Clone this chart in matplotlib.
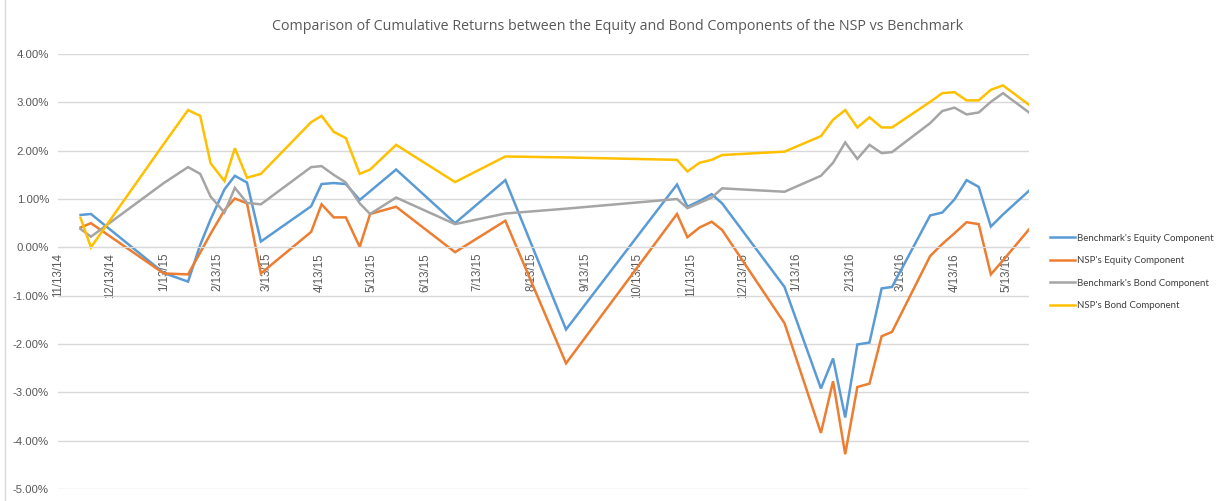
import datetime as dt
import matplotlib
matplotlib.use("Agg")
import matplotlib.pyplot as plt
import matplotlib.dates as mdates
from matplotlib.ticker import FuncFormatter, MultipleLocator
from matplotlib.lines import Line2D

# observation dates (m/d/y)
dates = [
    "11/26/14", "12/2/14", "1/13/15", "1/27/15", "2/3/15", "2/9/15", "2/17/15",
    "2/23/15", "3/2/15", "3/10/15", "4/8/15", "4/14/15", "4/21/15", "4/28/15",
    "5/6/15", "5/12/15", "5/27/15", "6/30/15", "7/29/15", "9/2/15", "11/5/15",
    "11/11/15", "11/18/15", "11/25/15", "12/1/15", "1/6/16", "1/27/16", "2/3/16",
    "2/10/16", "2/17/16", "2/24/16", "3/2/16", "3/8/16", "3/30/16", "4/6/16",
    "4/13/16", "4/20/16", "4/27/16", "5/4/16", "5/11/16", "5/26/16",
]

bench_equity = [
    0.67, 0.69, -0.53, -0.71, 0.05, 0.58, 1.20, 1.48, 1.34, 0.12, 0.85, 1.31,
    1.33, 1.31, 0.98, 1.16, 1.61, 0.50, 1.39, -1.70, 1.30, 0.84, 0.96, 1.10,
    0.91, -0.82, -2.92, -2.30, -3.52, -2.01, -1.97, -0.85, -0.82, 0.66, 0.72,
    0.99, 1.39, 1.25, 0.43, 0.68, 1.17,
]
nsp_equity = [
    0.41, 0.50, -0.54, -0.56, -0.11, 0.28, 0.77, 1.01, 0.91, -0.54, 0.32, 0.89,
    0.62, 0.62, 0.01, 0.69, 0.84, -0.10, 0.55, -2.40, 0.69, 0.21, 0.41, 0.53,
    0.36, -1.57, -3.84, -2.77, -4.28, -2.89, -2.82, -1.84, -1.75, -0.18, 0.07,
    0.29, 0.52, 0.48, -0.56, -0.27, 0.37,
]
bench_bond = [
    0.38, 0.22, 1.33, 1.66, 1.52, 1.05, 0.72, 1.23, 0.92, 0.89, 1.66, 1.68,
    1.50, 1.34, 0.91, 0.69, 1.03, 0.48, 0.70, 0.80, 1.00, 0.81, 0.92, 1.03,
    1.22, 1.15, 1.48, 1.75, 2.17, 1.83, 2.12, 1.95, 1.97, 2.57, 2.82, 2.89,
    2.75, 2.79, 3.01, 3.19, 2.79,
]
nsp_bond = [
    0.61, 0.00, 2.14, 2.84, 2.72, 1.74, 1.37, 2.05, 1.44, 1.52, 2.59, 2.72,
    2.39, 2.26, 1.52, 1.61, 2.12, 1.35, 1.88, 1.86, 1.81, 1.57, 1.75, 1.81,
    1.91, 1.98, 2.30, 2.64, 2.84, 2.48, 2.69, 2.48, 2.48, 3.01, 3.19, 3.21,
    3.04, 3.04, 3.26, 3.35, 2.95,
]

series_names = [
    "Benchmark's Equity Component",
    "NSP's Equity Component",
    "Benchmark's Bond Component",
    "NSP's Bond Component",
]
colors = ["#5B9BD5", "#ED7D31", "#A5A5A5", "#FFC000"]

title = "Comparison of Cumulative Returns between the Equity and Bond Components of the NSP vs Benchmark"

x = [dt.datetime.strptime(d, "%m/%d/%y") for d in dates]
start = dt.datetime(2014, 11, 13)
end = dt.datetime(2016, 5, 26)

fig = plt.figure(figsize=(12.29, 5.01), dpi=100)
ax = fig.add_axes([58 / 1229, 1 - 489 / 501, (1029 - 58) / 1229, (489 - 54) / 501])

for vals, name, c in zip([bench_equity, nsp_equity, bench_bond, nsp_bond], series_names, colors):
    ax.plot(x, vals, color=c, lw=1.8, label=name, solid_joinstyle="miter")

ax.set_xlim(start, end)
ax.set_ylim(-5, 4)
ax.yaxis.set_major_locator(MultipleLocator(1))
ax.yaxis.set_major_formatter(FuncFormatter(lambda v, p: "%.2f%%" % v))
ax.grid(axis="y", color="#D9D9D9", lw=1)
ax.set_axisbelow(True)

ticks = [dt.datetime(2014 + (10 + i) // 12, (10 + i) % 12 + 1, 13) for i in range(19)]
ax.set_xticks(ticks)
ax.xaxis.set_major_formatter(FuncFormatter(
    lambda v, p: "%d/%d/%s" % (mdates.num2date(v).month, mdates.num2date(v).day,
                               mdates.num2date(v).strftime("%y"))))

for s in ["top", "right", "left"]:
    ax.spines[s].set_visible(False)
ax.spines["bottom"].set_position(("data", 0))
ax.spines["bottom"].set_color("#D9D9D9")
ax.tick_params(axis="both", length=0, colors="#595959")
ax.tick_params(axis="y", labelsize=8.2, pad=6.5)
ax.tick_params(axis="x", labelsize=8.3, pad=4, labelrotation=90)
for lab in ax.get_yticklabels() + ax.get_xticklabels():
    lab.set_family("Liberation Sans")

fig.text(618 / 1229, 1 - 27 / 501, title, ha="center", va="center",
         fontsize=10.3, color="#595959", family="Open Sans")

handles = [Line2D([], [], color=c, lw=1.8) for c in colors]
fig.legend(handles, series_names, loc="center left",
           bbox_to_anchor=(1050 / 1229, 1 - 272 / 501), frameon=False,
           prop={"family": "Lato", "size": 7.0}, labelcolor="#404040",
           handlelength=2.6, handletextpad=0.15, labelspacing=1.4,
           borderpad=0, borderaxespad=0)

fig.add_artist(Line2D([5 / 1229, 5 / 1229], [0, 1], color="#D9D9D9", lw=1,
                      transform=fig.transFigure))

fig.savefig("out.png", dpi=100, facecolor="white")
